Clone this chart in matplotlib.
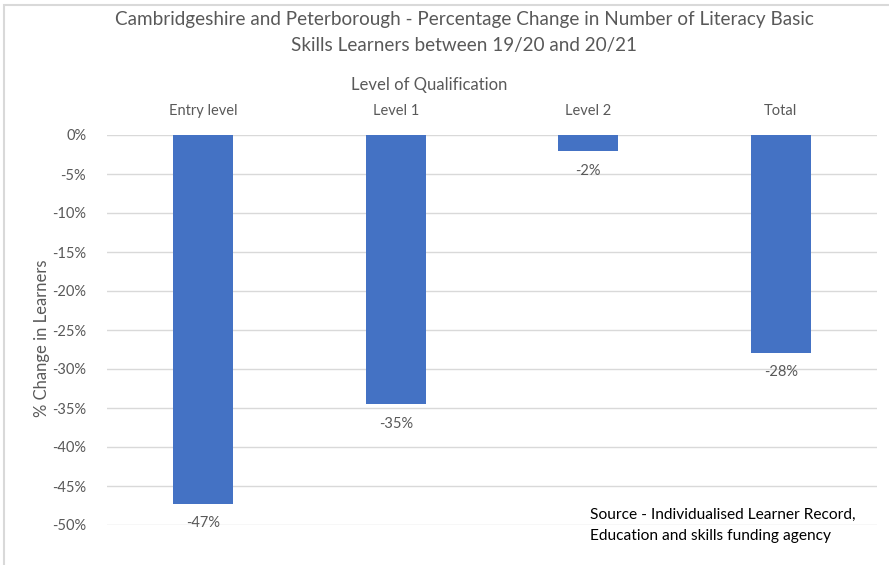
import matplotlib
matplotlib.use("Agg")
import matplotlib.pyplot as plt
from matplotlib.patches import Rectangle

categories = ["Entry level", "Level 1", "Level 2", "Total"]
values = [-47.3, -34.5, -2.1, -27.9]
labels = ["-47%", "-35%", "-2%", "-28%"]
yticks = [0, -5, -10, -15, -20, -25, -30, -35, -40, -45, -50]

plt.rcParams['font.family'] = ['Lato', 'DejaVu Sans']
txt = '#595959'

fig = plt.figure(figsize=(8.89, 5.65), dpi=100)
W, H = 889, 565
ax = fig.add_axes([107/W, 1 - 525/H, (877-107)/W, (525-135)/H])

x = list(range(len(categories)))
ax.bar(x, values, width=0.31, color='#4472C4', zorder=3)
ax.set_xlim(-0.5, 3.5)
ax.set_ylim(-50, 0)
ax.set_yticks(yticks)
ax.set_yticklabels([f"{t}%" for t in yticks], color=txt, fontsize=10.5)
ax.tick_params(axis='y', length=0, pad=15)
ax.xaxis.tick_top()
ax.set_xticks(x)
ax.set_xticklabels(categories, color=txt, fontsize=10.5)
ax.tick_params(axis='x', length=0, pad=12)
ax.xaxis.set_label_position('top')
ax.set_xlabel("Level of Qualification", color=txt, fontsize=12)
ax.xaxis.set_label_coords((429 - 107) / 770, 1 + (135 - 85) / 390)
ax.xaxis.label.set_va('center')
ax.set_ylabel("% Change in Learners", color=txt, fontsize=12)
ax.yaxis.set_label_coords((42 - 107) / 770, 0.48)
ax.yaxis.label.set_va('center')
ax.grid(axis='y', color='#d9d9d9', linewidth=1, zorder=0)
for s in ax.spines.values():
    s.set_visible(False)

for xi, v, lab in zip(x, values, labels):
    ax.annotate(lab, (xi, v), xytext=(0, -9), textcoords='offset points',
                ha='center', va='top', color=txt, fontsize=10.5, zorder=4)

fig.text(464 / W, 1 - 20 / H,
         "Cambridgeshire and Peterborough - Percentage Change in Number of Literacy Basic",
         ha='center', va='center', color=txt, fontsize=13.6)
fig.text(464 / W, 1 - 45 / H, "Skills Learners between 19/20 and 20/21",
         ha='center', va='center', color=txt, fontsize=13.6)

fig.text(590 / W, 1 - 515 / H, "Source - Individualised Learner Record,",
         ha='left', va='center', color='black', fontsize=11.2)
fig.text(590 / W, 1 - 536 / H, "Education and skills funding agency",
         ha='left', va='center', color='black', fontsize=11.2)

fig.add_artist(Rectangle((4 / W, -0.1), 1.2, 1.1 - 5 / H, transform=fig.transFigure,
                         fill=False, edgecolor='#d9d9d9', linewidth=1.5))

fig.savefig("out.png", dpi=100)
